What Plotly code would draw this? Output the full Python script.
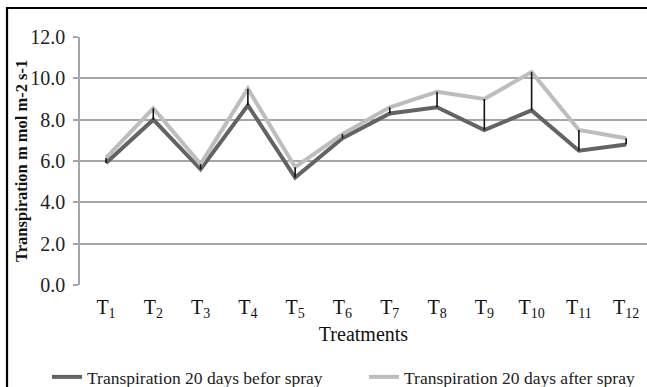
import plotly.graph_objects as go

categories = ["T<sub>1</sub>", "T<sub>2</sub>", "T<sub>3</sub>", "T<sub>4</sub>", "T<sub>5</sub>", "T<sub>6</sub>",
              "T<sub>7</sub>", "T<sub>8</sub>", "T<sub>9</sub>", "T<sub>10</sub>", "T<sub>11</sub>", "T<sub>12</sub>"]
before_spray = [5.9, 8.0, 5.6, 8.7, 5.2, 7.1, 8.3, 8.6, 7.5, 8.45, 6.5, 6.8]
after_spray = [6.15, 8.55, 5.85, 9.5, 5.7, 7.3, 8.6, 9.35, 9.0, 10.3, 7.5, 7.1]
y_ticks = [0, 2, 4, 6, 8, 10, 12]
y_tick_labels = ["0.0", "2.0", "4.0", "6.0", "8.0", "10.0", "12.0"]

FONT = "Liberation Serif, Times New Roman, serif"

# high-low connector lines between the two series
hl_x, hl_y = [], []
for c, b, a in zip(categories, before_spray, after_spray):
    hl_x += [c, c, None]
    hl_y += [b, a, None]

fig = go.Figure()
fig.add_trace(go.Scatter(x=categories, y=before_spray, mode="lines",
                         name="Transpiration 20 days befor spray", legend="legend",
                         line=dict(color="#636363", width=4)))
fig.add_trace(go.Scatter(x=categories, y=after_spray, mode="lines",
                         name="Transpiration 20 days after spray", legend="legend2",
                         line=dict(color="#bdbdbd", width=4)))
fig.add_trace(go.Scatter(x=hl_x, y=hl_y, mode="lines", showlegend=False,
                         line=dict(color="#111111", width=1.6), hoverinfo="skip"))

legend_font = dict(family=FONT, size=17.5, color="#222222")
fig.update_layout(
    width=647, height=387,
    margin=dict(l=80, r=0, t=37, b=102, autoexpand=False),
    paper_bgcolor="white", plot_bgcolor="white",
    font=dict(family=FONT, color="#111111"),
    showlegend=True,
    legend=dict(orientation="h", xref="container", yref="container",
                x=47 / 647, xanchor="left", y=10 / 387, yanchor="middle",
                font=legend_font, bgcolor="rgba(0,0,0,0)"),
    legend2=dict(orientation="h", xref="container", yref="container",
                 x=364 / 647, xanchor="left", y=10 / 387, yanchor="middle",
                 font=legend_font, bgcolor="rgba(0,0,0,0)"),
    shapes=[dict(type="rect", xref="paper", yref="paper",
                 x0=-0.1287, x1=1.05, y0=-0.6, y1=1.117,
                 line=dict(color="black", width=2.2))],
    annotations=[dict(text="<b>Transpiration m mol m-2 s-1</b>", textangle=-90,
                      xref="paper", yref="paper", x=(21 - 80) / 567, y=0.5,
                      xanchor="center", yanchor="middle", showarrow=False,
                      font=dict(family=FONT, size=16.5, color="#111111"))],
)

fig.update_xaxes(
    type="category", range=[-0.55, 11.44], automargin=False,
    showgrid=False, showline=False, ticks="",
    ticklabelstandoff=8,
    tickfont=dict(family=FONT, size=20, color="#111111"),
    title=dict(text="Treatments", font=dict(family=FONT, size=20, color="#111111"), standoff=6),
)
fig.update_yaxes(
    range=[0, 12], tickvals=y_ticks, ticktext=y_tick_labels, automargin=False,
    showgrid=True, gridcolor="#a6a6a6", gridwidth=1.5,
    showline=True, linecolor="#a6a6a6", linewidth=1.5,
    ticks="outside", ticklen=5, tickcolor="#a6a6a6", tickwidth=1.5,
    ticklabelstandoff=4,
    tickfont=dict(family=FONT, size=20, color="#222222"),
    zeroline=False,
)

fig.write_html("out.html", config={"displayModeBar": False},
               post_script="document.body.style.margin='0';")
